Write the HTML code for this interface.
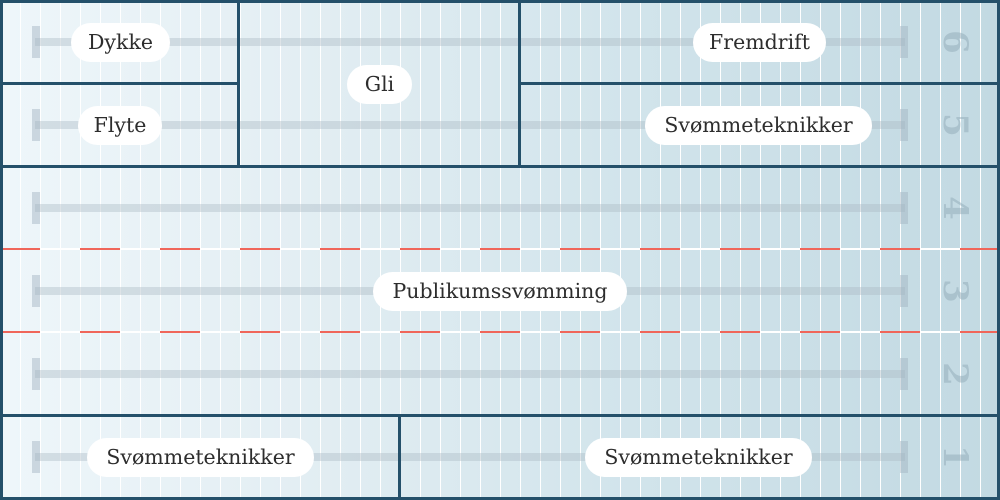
<!DOCTYPE html>
<html><head><style>
*{margin:0;padding:0}
body{width:1000px;height:500px;overflow:hidden;position:relative;background:linear-gradient(to right,#eef6fa,#e3eef3 30%,#d3e5ec 60%,#c2d9e2);font-family:"DejaVu Serif",serif}
.vl{position:absolute;top:0;height:500px;width:1px;background:#fff}
.bar{position:absolute;left:35px;width:870px;height:8px;background:rgba(170,185,195,.4)}
.cap{position:absolute;width:8px;height:32px;background:rgba(160,178,190,.45)}
.num{position:absolute;left:930px;width:50px;text-align:center;font:bold 34px "DejaVu Serif",serif;color:rgba(140,165,178,.45);transform:rotate(90deg);line-height:50px;height:50px}
.b{position:absolute;background:#24506a}
.pill{position:absolute;height:39px;background:#fff;border-radius:20px;font-family:"DejaVu Serif",serif;font-size:20.5px;color:#2d2d2d;line-height:39px;text-align:center;white-space:nowrap}
.dash{position:absolute;left:0;width:1000px;height:2px;background:repeating-linear-gradient(to right,#f0665a 0 40px,#fff 40px 80px)}
</style></head><body>
<div id="g"></div>
<script>
var s='';for(var x=20;x<1000;x+=20)s+='<div class="vl" style="left:'+x+'px"></div>';
var ys=[42,125,208,291,374,457];
for(var i=0;i<6;i++){var y=ys[i];s+='<div class="bar" style="top:'+(y-4)+'px"></div><div class="cap" style="left:32px;top:'+(y-16)+'px"></div><div class="cap" style="left:900px;top:'+(y-16)+'px"></div><div class="num" style="top:'+(y-25)+'px">'+(6-i)+'</div>';}
document.getElementById('g').innerHTML=s;
</script>
<div class="dash" style="top:248px"></div>
<div class="dash" style="top:331px"></div>
<div class="b" style="left:0;top:0;width:1000px;height:3px"></div>
<div class="b" style="left:0;top:497px;width:1000px;height:3px"></div>
<div class="b" style="left:0;top:0;width:3px;height:500px"></div>
<div class="b" style="left:997px;top:0;width:3px;height:500px"></div>
<div class="b" style="left:0;top:82px;width:239px;height:3px"></div>
<div class="b" style="left:518px;top:82px;width:482px;height:3px"></div>
<div class="b" style="left:0;top:165px;width:1000px;height:3px"></div>
<div class="b" style="left:0;top:414px;width:1000px;height:3px"></div>
<div class="b" style="left:237px;top:0;width:3px;height:167px"></div>
<div class="b" style="left:518px;top:0;width:3px;height:167px"></div>
<div class="b" style="left:398px;top:414px;width:3px;height:86px"></div>
<div class="pill" style="left:71px;top:23px;width:99px">Dykke</div>
<div class="pill" style="left:78px;top:106px;width:84px">Flyte</div>
<div class="pill" style="left:347px;top:65px;width:65px">Gli</div>
<div class="pill" style="left:693px;top:23px;width:133px">Fremdrift</div>
<div class="pill" style="left:645px;top:106px;width:227px">Svømmeteknikker</div>
<div class="pill" style="left:373px;top:272px;width:254px">Publikumssvømming</div>
<div class="pill" style="left:87px;top:438px;width:227px">Svømmeteknikker</div>
<div class="pill" style="left:585px;top:438px;width:227px">Svømmeteknikker</div>
</body></html>
